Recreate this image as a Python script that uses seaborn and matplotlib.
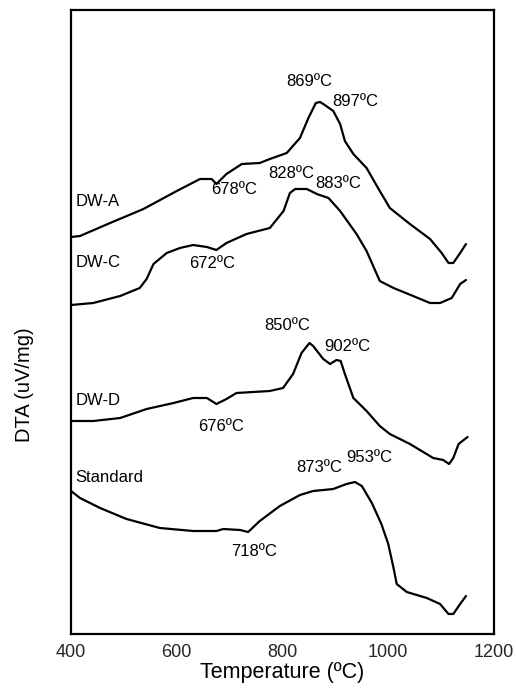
import numpy as np
import pandas as pd
import matplotlib
matplotlib.use("Agg")
import matplotlib.pyplot as plt
import seaborn as sns

# ---- data (temperature in ºC, DTA in arbitrary offset units) ----
t_dwa = [400, 417, 474, 537, 600, 644, 666, 675, 694, 723, 757, 776, 808, 833, 849, 863, 871, 880, 896, 909, 918, 934, 959, 984, 1003, 1041, 1079, 1101, 1114, 1123, 1136, 1147]
y_dwa = [397, 398, 411, 425, 443, 455, 455, 450, 460, 470, 471, 475, 481, 496, 516, 531, 532, 529, 523, 510, 493, 480, 466, 443, 426, 410, 395, 381, 371, 371, 381, 390]

t_dwc = [400, 442, 493, 530, 543, 556, 581, 606, 631, 657, 675, 694, 732, 776, 802, 814, 824, 846, 865, 887, 909, 940, 959, 984, 1010, 1047, 1079, 1098, 1120, 1136, 1147]
y_dwc = [329, 331, 338, 346, 355, 370, 381, 386, 389, 387, 384, 391, 400, 406, 423, 441, 445, 445, 440, 436, 423, 400, 383, 353, 346, 338, 331, 331, 336, 350, 354]

t_dwd = [400, 442, 493, 543, 594, 631, 657, 675, 694, 713, 776, 801, 820, 836, 851, 858, 877, 890, 902, 910, 918, 934, 959, 984, 1003, 1041, 1085, 1104, 1115, 1123, 1133, 1150]
y_dwd = [213, 213, 216, 225, 231, 236, 236, 230, 235, 241, 243, 246, 260, 281, 291, 288, 275, 270, 274, 273, 260, 236, 223, 208, 200, 190, 176, 174, 170, 176, 190, 197]

t_std = [400, 417, 455, 505, 568, 631, 675, 688, 720, 735, 757, 795, 833, 858, 896, 921, 937, 950, 969, 987, 1000, 1010, 1016, 1035, 1073, 1098, 1114, 1123, 1136, 1147]
y_std = [143, 136, 126, 115, 106, 103, 103, 105, 104, 102, 113, 128, 139, 143, 145, 150, 152, 148, 131, 110, 90, 66, 50, 42, 36, 30, 20, 20, 30, 38]

series_names = ["DW-A", "DW-C", "DW-D", "Standard"]

# peak annotation texts and their anchor positions
ann_text = ["869ºC", "897ºC", "678ºC", "828ºC", "883ºC", "672ºC",
            "850ºC", "902ºC", "676ºC", "873ºC", "953ºC", "718ºC"]
ann_x = [850, 937, 708, 816, 906, 667, 809, 923, 684, 869, 965, 746]
ann_y = [552, 533, 444, 460, 450, 370, 308, 287, 207, 167, 176, 82]

label_x = 408
label_y = [432, 371, 233, 157]

x_ticks = [400, 600, 800, 1000, 1200]

# ---- build long table ----
frames = []
for name, t, y in zip(series_names, [t_dwa, t_dwc, t_dwd, t_std], [y_dwa, y_dwc, y_dwd, y_std]):
    frames.append(pd.DataFrame({"T": t, "DTA": y, "sample": name}))
df = pd.concat(frames, ignore_index=True)

sns.set_theme(style="white")
plt.rcParams["font.family"] = ["Liberation Sans", "DejaVu Sans"]

fig = plt.figure(figsize=(5.16, 6.90), dpi=100)
ax = fig.add_axes([71 / 516, 1 - 634 / 690, 423 / 516, 624 / 690])

sns.lineplot(data=df, x="T", y="DTA", hue="sample", units="sample", estimator=None,
             palette={n: "black" for n in series_names}, legend=False, sort=False,
             linewidth=1.6, ax=ax)

ax.set_xlim(400, 1200)
ax.set_ylim(0, 624)
ax.set_xticks(x_ticks)
ax.set_xticklabels([str(v) for v in x_ticks], fontsize=13)
ax.set_yticks([])
ax.tick_params(axis="x", direction="out", length=3, width=1.5, color="black", pad=4)
for s in ax.spines.values():
    s.set_visible(True)
    s.set_color("black")
    s.set_linewidth(1.6)

ax.set_xlabel("Temperature (ºC)", fontsize=15.5, color="black", labelpad=1)
ax.set_ylabel("")
fig.text(25 / 516, 1 - 385 / 690, "DTA (uV/mg)", rotation=90, fontsize=14.5,
         ha="center", va="center", color="black")

for txt, x, y in zip(ann_text, ann_x, ann_y):
    ax.text(x, y, txt, fontsize=12, ha="center", va="center", color="black")
for name, y in zip(series_names, label_y):
    ax.text(label_x, y, name, fontsize=12, ha="left", va="center", color="black")

fig.savefig("out.png", dpi=100)
